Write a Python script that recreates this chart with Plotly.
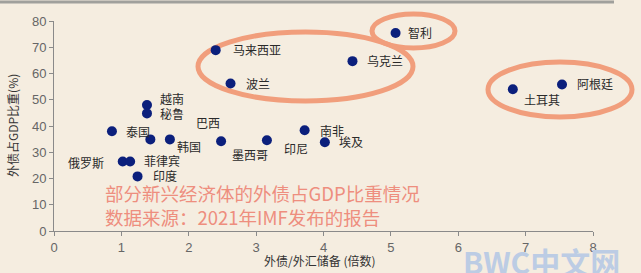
import plotly.graph_objects as go

# Data
countries = ["泰国", "越南", "秘鲁", "俄罗斯", "菲律宾", "印度", "韩国", "巴西", "墨西哥",
             "印尼", "马来西亚", "波兰", "乌克兰", "智利", "南非", "埃及", "土耳其", "阿根廷"]
debt_reserves = [0.86, 1.38, 1.38, 1.02, 1.13, 1.24, 1.43, 1.72, 2.48,
                 3.16, 2.40, 2.62, 4.43, 5.07, 3.72, 4.02, 6.81, 7.54]
debt_gdp = [38.0, 48.0, 44.8, 26.5, 26.5, 20.8, 34.9, 34.9, 34.2,
            34.6, 68.9, 56.2, 64.7, 75.4, 38.4, 33.8, 54.0, 55.8]
x_ticks = [0, 1, 2, 3, 4, 5, 6, 7, 8]
y_ticks = [0, 10, 20, 30, 40, 50, 60, 70, 80]

# label offsets in pixels (dx, dy; dy positive = down)
label_offsets = {
    "泰国": (26, 0), "越南": (25, -7), "秘鲁": (25, 0), "俄罗斯": (-37, 1),
    "菲律宾": (32, -1), "印度": (27, -1), "韩国": (39, 7), "巴西": (38, -17),
    "墨西哥": (29, 13), "印尼": (29, 8), "马来西亚": (41, -1), "波兰": (27, 0),
    "乌克兰": (33, -1), "智利": (24, -1), "南非": (27, 0), "埃及": (26, -1),
    "土耳其": (29, 10), "阿根廷": (33, -1),
}

BG = "#F5EDE0"
L, R, T, B = 54, 48, 21, 42
W, H = 641, 273

fig = go.Figure()
fig.add_trace(go.Scatter(
    x=debt_reserves, y=debt_gdp, mode="markers",
    marker=dict(size=10, color="#0B1F7C"),
    hoverinfo="text", text=countries, cliponaxis=False,
))

label_font = dict(family="Noto Sans CJK SC", size=12, color="#2a2a2a")
annotations = []
for name, xv, yv in zip(countries, debt_reserves, debt_gdp):
    dx, dy = label_offsets[name]
    annotations.append(dict(x=xv, y=yv, xref="x", yref="y", text=name, showarrow=False,
                            xanchor="center", yanchor="middle",
                            xshift=dx, yshift=-dy, font=label_font))

pw = W - L - R
ph = H - T - B
def px(xp):
    return (xp - L) / pw
def py(yp):
    return (H - B - yp) / ph

# axis titles
annotations.append(dict(x=px(320), y=py(260), xref="paper", yref="paper",
                        xanchor="center", yanchor="middle",
                        text="外债/外汇储备 (倍数)", showarrow=False,
                        font=dict(family="Noto Sans CJK SC", size=12, color="#333")))
annotations.append(dict(x=px(12), y=py(126), xref="paper", yref="paper",
                        xanchor="center", yanchor="middle",
                        text="外债占GDP比重(%)", showarrow=False, textangle=-90,
                        font=dict(family="Noto Sans CJK SC", size=12, color="#333")))
# overlay caption
cap_font = dict(family="Noto Sans CJK SC", size=18.5, color="#EE8E7E")
annotations.append(dict(x=px(103), y=py(193), xref="paper", yref="paper",
                        xanchor="left", yanchor="middle",
                        text="部分新兴经济体的外债占GDP比重情况", showarrow=False, font=cap_font))
annotations.append(dict(x=px(103), y=py(217), xref="paper", yref="paper",
                        xanchor="left", yanchor="middle",
                        text="数据来源：2021年IMF发布的报告", showarrow=False, font=cap_font))
# watermark
annotations.append(dict(x=px(461), y=py(261), xref="paper", yref="paper",
                        xanchor="left", yanchor="middle",
                        text="<b>BWC中文网</b>", showarrow=False,
                        font=dict(family="Noto Sans CJK SC", size=30, color="#BCCCE4")))

ell = dict(color="#F19E7C", width=5)
shapes = [
    dict(type="line", xref="paper", yref="paper", x0=px(0), x1=px(614), y0=py(2), y1=py(2),
         line=dict(color="#A0A09C", width=3)),
    dict(type="circle", xref="paper", yref="paper", x0=px(372), x1=px(455), y0=py(48), y1=py(14),
         line=ell, layer="below"),
    dict(type="circle", xref="paper", yref="paper", x0=px(198), x1=px(413), y0=py(101), y1=py(32),
         line=ell, layer="below"),
    dict(type="circle", xref="paper", yref="paper", x0=px(488), x1=px(632), y0=py(117), y1=py(62),
         line=ell, layer="below"),
]

axis_common = dict(showgrid=False, zeroline=False, showline=True, linecolor="#8a8a8a",
                   linewidth=1, ticks="outside", ticklen=4, tickcolor="#8a8a8a",
                   tickfont=dict(family="Liberation Sans", size=13, color="#666"))

fig.update_layout(
    width=W, height=H, autosize=False,
    margin=dict(l=L, r=R, t=T, b=B),
    paper_bgcolor=BG, plot_bgcolor=BG,
    showlegend=False,
    xaxis=dict(range=[0, 8], tickvals=x_ticks, **axis_common),
    yaxis=dict(range=[0, 80], tickvals=y_ticks, **axis_common),
    annotations=annotations, shapes=shapes,
)

fig.write_html("out.html", config=dict(displayModeBar=False))
